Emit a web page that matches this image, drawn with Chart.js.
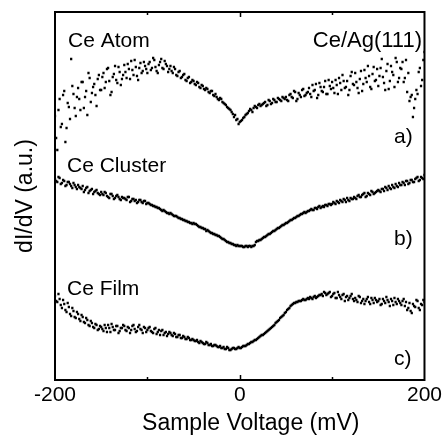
<!DOCTYPE html>
<html>
<head>
<meta charset="utf-8">
<script src="https://cdn.jsdelivr.net/npm/chart.js@4.4.0/dist/chart.umd.min.js"></script>
<style>
html, body { margin: 0; padding: 0; background: #fff; }
#wrap { width: 445px; height: 436px; }
</style>
</head>
<body>
<div id="wrap"><canvas id="stsChart" width="445" height="436"></canvas></div>
<script>
// bias grids in mV: two interleaved sweeps, 2.5 mV steps
const voltagesA = [];
for (let v = -200; v <= 200; v += 2.5) voltagesA.push(v);
const voltagesB = [];
for (let v = -198.75; v < 200; v += 2.5) voltagesB.push(v);

const xTickLabels = [-200, 0, 200];

// dI/dV (a.u., curves offset vertically)
const atomValues = [
    262, 228, 279, 254, 287, 250, 271, 319, 284, 262,
    290, 268, 296, 281, 263, 300, 285, 294, 272, 303,
    288, 305, 296, 310, 283, 301, 312, 295, 306, 299,
    313, 300, 309, 317, 303, 311, 298, 315, 307, 312,
    305, 316, 310, 318, 307, 313, 319, 309, 314, 306,
    312, 305, 309, 302, 307, 301, 304, 297, 301, 296,
    297, 293, 295, 290, 292, 288, 289, 285, 287, 282,
    281, 278, 279, 275, 273, 270, 268, 264, 263, 259,
    256, 258, 261, 264, 267, 268, 270, 271, 273, 272,
    274, 276, 273, 277, 275, 278, 276, 279, 277, 280,
    281, 277, 284, 280, 286, 279, 283, 288, 282, 285,
    290, 281, 287, 294, 283, 291, 286, 297, 284, 292,
    296, 285, 293, 300, 288, 297, 291, 283, 302, 294,
    305, 290, 299, 287, 308, 296, 302, 289, 311, 298,
    292, 310, 301, 288, 314, 297, 306, 291, 316, 300,
    309, 296, 318, 305, 281, 261, 279, 284, 310, 298, 326
];
const atomValuesB = [
    240, 268, 251, 283, 236, 275, 259, 292, 270, 281,
    279, 296, 270, 287, 305, 276, 291, 283, 299, 288,
    301, 290, 309, 297, 286, 304, 298, 311, 293, 303,
    306, 314, 299, 308, 318, 302, 310, 305, 316, 309,
    314, 308, 320, 311, 305, 316, 310, 317, 312, 309,
    307, 311, 303, 306, 300, 303, 298, 300, 295, 298,
    294, 296, 291, 293, 289, 290, 286, 287, 283, 284,
    279, 280, 276, 274, 271, 269, 266, 261, 258, 254,
    257, 260, 263, 265, 269, 266, 272, 270, 274, 273,
    275, 272, 278, 274, 279, 276, 280, 278, 281, 279,
    278, 283, 281, 287, 277, 285, 281, 289, 283, 286,
    284, 293, 288, 280, 295, 287, 291, 284, 298, 289,
    290, 298, 284, 295, 303, 290, 297, 288, 306, 293,
    296, 285, 307, 294, 300, 312, 291, 304, 297, 309,
    302, 319, 295, 307, 289, 312, 303, 320, 296, 310,
    316, 300, 286, 277, 283, 270, 288, 306, 292, 318
];

const clusterValues = [
    199, 196, 200, 195, 197, 193, 196, 192, 195, 191,
    193, 190, 192, 188, 191, 187, 189, 186, 188, 184,
    186, 183, 185, 181, 184, 182, 180, 183, 179, 181,
    180, 178, 181, 177, 179, 178, 176, 178, 175, 177,
    175, 174, 173, 172, 171, 170, 168, 168, 166, 165,
    165, 163, 162, 161, 160, 159, 158, 157, 156, 155,
    155, 154, 152, 151, 150, 149, 148, 146, 145, 144,
    143, 142, 140, 139, 137, 136, 135, 134, 133, 133,
    132, 132, 131, 132, 132, 131, 132, 136, 137, 138,
    140, 141, 143, 144, 146, 147, 149, 150, 152, 153,
    155, 156, 158, 159, 160, 162, 163, 164, 166, 166,
    167, 169, 168, 170, 171, 170, 172, 173, 172, 174,
    174, 175, 177, 175, 177, 179, 176, 178, 180, 179,
    180, 182, 181, 183, 185, 182, 184, 187, 184, 186,
    188, 186, 189, 191, 188, 190, 193, 190, 192, 195,
    193, 195, 197, 194, 198, 196, 199, 201, 198, 200, 203
];
const clusterValuesB = [
    197, 201, 194, 198, 192, 196, 194, 190, 193, 189,
    191, 189, 186, 190, 185, 188, 184, 187, 185, 183,
    184, 186, 182, 180, 184, 179, 182, 181, 178, 180,
    179, 181, 176, 179, 177, 175, 178, 176, 177, 174,
    175, 173, 172, 171, 170, 169, 167, 167, 165, 164,
    164, 162, 162, 160, 159, 158, 157, 156, 155, 154,
    154, 153, 151, 150, 149, 147, 147, 145, 144, 143,
    142, 141, 139, 138, 136, 135, 134, 133, 132, 132,
    132, 131, 132, 131, 132, 132, 133, 137, 138, 139,
    141, 142, 144, 145, 147, 148, 150, 151, 153, 154,
    155, 157, 158, 160, 161, 162, 164, 165, 165, 167,
    168, 168, 170, 169, 172, 171, 171, 173, 174, 173,
    176, 174, 176, 178, 176, 178, 180, 177, 179, 181,
    179, 183, 181, 184, 181, 185, 183, 186, 185, 187,
    187, 189, 187, 190, 192, 189, 191, 194, 191, 193,
    196, 193, 197, 195, 198, 196, 200, 197, 201, 199
];

const filmValues = [
    82, 76, 79, 70, 74, 66, 71, 62, 67, 60,
    64, 57, 61, 55, 58, 52, 55, 50, 53, 49,
    51, 47, 50, 53, 46, 51, 48, 52, 47, 50,
    52, 47, 50, 48, 53, 46, 51, 49, 45, 50,
    48, 51, 46, 49, 44, 48, 47, 43, 46, 44,
    45, 42, 44, 41, 43, 40, 41, 39, 40, 38,
    38, 37, 36, 37, 35, 34, 35, 33, 32, 33,
    32, 31, 30, 31, 29, 30, 28, 30, 29, 30,
    30, 31, 32, 33, 34, 36, 37, 38, 40, 42,
    43, 45, 47, 49, 51, 53, 56, 58, 61, 63,
    66, 69, 72, 74, 75, 76, 77, 78, 78, 79,
    79, 80, 81, 80, 82, 83, 82, 85, 84, 86,
    82, 85, 80, 83, 79, 84, 81, 78, 82, 79,
    80, 76, 81, 77, 74, 79, 76, 80, 75, 78,
    77, 73, 79, 75, 78, 72, 77, 80, 74, 77,
    73, 79, 76, 70, 67, 74, 71, 77, 68, 73, 76
];
const filmValuesB = [
    77, 84, 73, 78, 68, 75, 64, 70, 61, 66,
    59, 63, 56, 60, 53, 57, 51, 54, 48, 52,
    49, 53, 46, 50, 54, 48, 52, 45, 50, 53,
    48, 51, 45, 52, 49, 47, 53, 48, 51, 46,
    50, 47, 45, 50, 46, 43, 48, 45, 42, 46,
    43, 45, 41, 43, 40, 42, 39, 41, 38, 39,
    37, 38, 35, 36, 34, 36, 33, 34, 32, 33,
    31, 32, 30, 29, 31, 28, 29, 30, 29, 31,
    30, 32, 32, 34, 35, 36, 38, 39, 41, 43,
    44, 46, 48, 50, 52, 55, 57, 60, 62, 65,
    68, 70, 73, 75, 76, 77, 77, 79, 78, 80,
    81, 79, 82, 81, 83, 84, 86, 83, 85, 81,
    84, 80, 86, 81, 83, 77, 82, 80, 84, 77,
    78, 82, 75, 79, 77, 81, 74, 78, 80, 76,
    79, 74, 77, 81, 76, 79, 73, 76, 79, 75,
    77, 72, 68, 75, 65, 72, 78, 70, 74, 78
];

const seriesNames = ['Ce Atom', 'Ce Cluster', 'Ce Film'];
const panelTags = ['a)', 'b)', 'c)'];

const FONT = '"Liberation Sans", Arial, Helvetica, sans-serif';

function toPoints(values, values2) {
    const pts = voltagesA.map((v, i) => ({ x: v, y: values[i] }));
    voltagesB.forEach((v, i) => pts.push({ x: v, y: values2[i] }));
    return pts;
}

function dotSet(label, values, values2) {
    return {
        label: label,
        data: toPoints(values, values2),
        pointRadius: 1.6,
        pointHoverRadius: 1.6,
        pointStyle: 'rect',
        pointBackgroundColor: '#000',
        pointBorderWidth: 0,
        showLine: false
    };
}

// frame + inward ticks, like the original plot box
const framePlugin = {
    id: 'frame',
    afterDatasetsDraw(chart) {
        const { ctx, chartArea: a } = chart;
        const xs = chart.scales.x;
        ctx.save();
        ctx.strokeStyle = '#000';
        ctx.lineWidth = 2;
        ctx.strokeRect(a.left, a.top, a.right - a.left, a.bottom - a.top);
        ctx.lineWidth = 1.5;
        [-100, 0, 100].forEach(function(v) {
            const px = Math.round(xs.getPixelForValue(v)) + 0.5;
            const len = v === 0 ? 5 : 3;
            ctx.beginPath();
            ctx.moveTo(px, a.bottom);
            ctx.lineTo(px, a.bottom - len);
            ctx.moveTo(px, a.top);
            ctx.lineTo(px, a.top + len);
            ctx.stroke();
        });
        ctx.restore();
    }
};

// panel labels and x title (title sits a bit right of centre in the original)
const labelPlugin = {
    id: 'labels',
    afterDraw(chart) {
        const { ctx, chartArea: a } = chart;
        ctx.save();
        ctx.fillStyle = '#000';
        ctx.textBaseline = 'alphabetic';
        ctx.font = '21px ' + FONT;
        ctx.textAlign = 'left';
        ctx.fillText(seriesNames[0], 68, 47);
        ctx.fillText(seriesNames[1], 67, 172);
        ctx.fillText(seriesNames[2], 67, 295);
        ctx.fillText(panelTags[0], 394, 143);
        ctx.fillText(panelTags[1], 394, 245);
        ctx.fillText(panelTags[2], 394, 365);
        ctx.font = '22px ' + FONT;
        ctx.textAlign = 'right';
        ctx.fillText('Ce/Ag(111)', 422, 47);
        ctx.font = '23px ' + FONT;
        ctx.textAlign = 'center';
        ctx.fillText('Sample Voltage (mV)', (a.left + a.right) / 2 + 11, 430);
        ctx.restore();
    }
};

const ctx = document.getElementById('stsChart').getContext('2d');
new Chart(ctx, {
    type: 'scatter',
    data: {
        datasets: [
            dotSet(seriesNames[0], atomValues, atomValuesB),
            dotSet(seriesNames[1], clusterValues, clusterValuesB),
            dotSet(seriesNames[2], filmValues, filmValuesB)
        ]
    },
    options: {
        responsive: false,
        animation: false,
        devicePixelRatio: 1,
        layout: { padding: { top: 12, right: 18, left: 0, bottom: 0 } },
        plugins: {
            legend: { display: false },
            tooltip: { enabled: false }
        },
        scales: {
            x: {
                type: 'linear',
                min: -200,
                max: 200,
                afterFit: function(scale) { scale.height = 56; },
                afterBuildTicks: function(scale) {
                    scale.ticks = xTickLabels.map(v => ({ value: v }));
                },
                grid: { display: false, drawTicks: false },
                border: { display: false },
                ticks: {
                    color: '#000',
                    padding: 3,
                    maxRotation: 0,
                    autoSkip: false,
                    font: { family: FONT, size: 21 }
                }
            },
            y: {
                type: 'linear',
                min: -2,
                max: 366,
                afterFit: function(scale) { scale.width = 55; },
                grid: { display: false, drawTicks: false },
                border: { display: false },
                ticks: { display: false },
                title: {
                    display: true,
                    text: 'dI/dV (a.u.)',
                    color: '#000',
                    font: { family: FONT, size: 23 },
                    padding: { top: 12, bottom: 0 }
                }
            }
        }
    },
    plugins: [framePlugin, labelPlugin]
});
</script>
</body>
</html>
